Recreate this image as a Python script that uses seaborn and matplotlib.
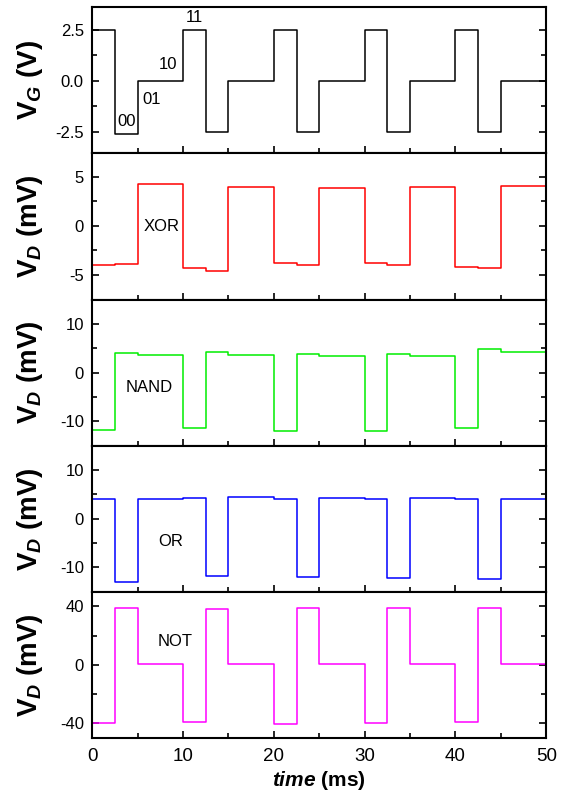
import matplotlib
matplotlib.use('Agg')
import matplotlib.pyplot as plt
from matplotlib.ticker import MultipleLocator, FormatStrFormatter
import seaborn as sns
import pandas as pd

# Segment boundaries of the gate-input sequence (ms)
edges = [0, 2.5, 5, 10, 12.5, 15, 20, 22.5, 25, 30, 32.5, 35, 40, 42.5, 45, 50]

# Mean level of each segment
vg_levels = [2.5, -2.6, 0.0, 2.5, -2.5, 0.0, 2.5, -2.5, 0.0, 2.5, -2.5, 0.0, 2.5, -2.5, 0.0]
xor_levels = [-4.0, -3.9, 4.3, -4.3, -4.6, 4.0, -3.8, -4.0, 3.9, -3.8, -4.0, 4.0, -4.2, -4.3, 4.1]
nand_levels = [-11.8, 4.0, 3.6, -11.4, 4.2, 3.6, -12.0, 3.9, 3.5, -12.0, 3.8, 3.5, -11.3, 4.8, 4.3]
or_levels = [4.0, -12.9, 4.0, 4.2, -11.8, 4.5, 4.0, -11.9, 4.2, 4.0, -12.2, 4.2, 4.1, -12.4, 4.1]
not_levels = [-39.5, 38.8, 0.8, -39.2, 38.5, 0.8, -40.2, 39.2, 0.8, -40.0, 39.2, 0.6, -39.0, 39.2, 0.6]

panel_levels = [vg_levels, xor_levels, nand_levels, or_levels, not_levels]
panel_colors = ['black', '#ff0000', '#00ee00', '#0000ff', '#ff00ff']
y_labels = [r'$\mathbf{V}_{\mathit{G}}$ (V)'] + [r'$\mathbf{V}_{\mathit{D}}$ (mV)'] * 4
y_limits = [(-3.55, 3.6), (-7.5, 7.4), (-15, 15), (-15, 15), (-50, 50)]
y_major = [2.5, 5, 10, 10, 40]
gate_text = [None, 'XOR', 'NAND', 'OR', 'NOT']

# input-state labels on the gate voltage panel
state_labels = ['00', '01', '10', '11']

sns.set_style('ticks')
plt.rcParams['font.family'] = ['Liberation Sans', 'DejaVu Sans']
plt.rcParams['mathtext.fontset'] = 'custom'
plt.rcParams['mathtext.rm'] = 'Liberation Sans:bold'
plt.rcParams['mathtext.bf'] = 'Liberation Sans:bold'
plt.rcParams['mathtext.it'] = 'Liberation Sans:italic:bold'
plt.rcParams['axes.unicode_minus'] = False
for key in ['text.color', 'axes.labelcolor', 'xtick.color', 'ytick.color', 'axes.edgecolor']:
    plt.rcParams[key] = 'black'

fig, axes = plt.subplots(5, 1, figsize=(5.62, 8.0), dpi=100, sharex=True)
fig.subplots_adjust(left=0.164, right=0.972, top=0.991, bottom=0.0775, hspace=0)

for i, ax in enumerate(axes):
    df = pd.DataFrame({'time': edges, 'v': panel_levels[i] + [panel_levels[i][-1]]})
    sns.lineplot(data=df, x='time', y='v', ax=ax, color=panel_colors[i],
                 drawstyle='steps-post', linewidth=1.1, sort=False, estimator=None)
    ax.set_xlim(0, 50)
    ax.set_ylim(*y_limits[i])
    ax.yaxis.set_major_locator(MultipleLocator(y_major[i]))
    ax.yaxis.set_minor_locator(MultipleLocator(y_major[i] / 2))
    ax.xaxis.set_major_locator(MultipleLocator(10))
    ax.xaxis.set_minor_locator(MultipleLocator(5))
    ax.tick_params(which='both', direction='in', right=True, top=False, width=1.2)
    ax.tick_params(which='major', length=5)
    ax.tick_params(which='minor', length=3.5)
    ax.tick_params(axis='y', labelsize=12, pad=6)
    ax.tick_params(axis='x', labelsize=13.5, pad=7)
    for s in ax.spines.values():
        s.set_linewidth(1.5)
        s.set_color('black')
    ax.set_ylabel(y_labels[i], fontsize=20, fontweight='bold')
    ax.yaxis.set_label_coords(-0.103, 0.5)
    ax.set_xlabel('')
    if i == 0:
        ax.yaxis.set_major_formatter(FormatStrFormatter('%.1f'))

axes[1].text(7.7, -0.1, gate_text[1], fontsize=12, ha='center', va='center')
axes[2].text(6.3, -3, gate_text[2], fontsize=12, ha='center', va='center')
axes[3].text(8.6, -4.7, gate_text[3], fontsize=12, ha='center', va='center')
axes[4].text(9.1, 16, gate_text[4], fontsize=12, ha='center', va='center')

state_pos = [(3.8, -2.0), (6.6, -0.92), (8.4, 0.78), (11.2, 3.1)]
for lab, (tx, ty) in zip(state_labels, state_pos):
    axes[0].text(tx, ty, lab, fontsize=12, ha='center', va='center')

axes[-1].set_xlabel(r'$\mathit{time}$ (ms)', fontsize=15, fontweight='bold', labelpad=3)

fig.savefig('out.png', dpi=100)
